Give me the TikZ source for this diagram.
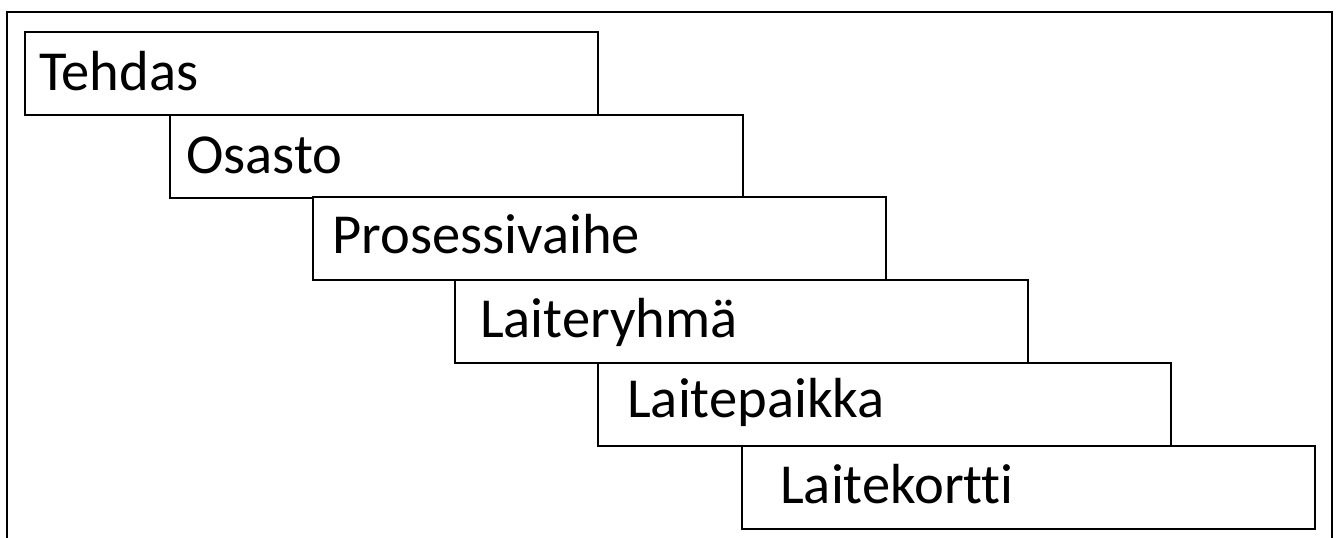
\documentclass[tikz,border=0pt]{standalone}
\usepackage{fontspec}
\setmainfont{Carlito}[Ligatures={NoCommon}]
\begin{document}
\begin{tikzpicture}[x=1pt,y=-1pt,
  level/.style={draw=black,line width=1.6pt,fill=white,rectangle,inner sep=0pt,
    minimum width=573pt,minimum height=83pt,anchor=north west},
  levtext/.style={anchor=base west,inner sep=0pt,font=\fontsize{56.5}{68}\selectfont}]
  \useasboundingbox (0,0) rectangle (1336,538);
  % open frame around the stairs
  \coordinate (fbl) at (7,545);
  \coordinate (ftl) at (7,12);
  \coordinate (ftr) at (1332,12);
  \coordinate (fbr) at (1332,545);
  \draw[line width=2.2pt] (fbl) -- (ftl) -- (ftr) -- (fbr);
  % stepped hierarchy levels
  \node[level] (b1) at (24,31) {};
  \node[level] (b2) at (169,114) {};
  \node[level] (b3) at (312,196) {};
  \node[level] (b4) at (454,279) {};
  \node[level] (b5) at (597,362) {};
  \node[level] (b6) at (741,445) {};
  \node[levtext] (t1) at (39,90) {Tehdas};
  \node[levtext] (t2) at (186,173) {Osasto};
  \node[levtext] (t3) at (332,253) {Prosessivaihe};
  \node[levtext] (t4) at (480,337) {Laiteryhmä};
  \node[levtext] (t5) at (627,417) {Laitepaikka};
  \node[levtext] (t6) at (780,503) {Laitekortti};
\end{tikzpicture}
\end{document}
